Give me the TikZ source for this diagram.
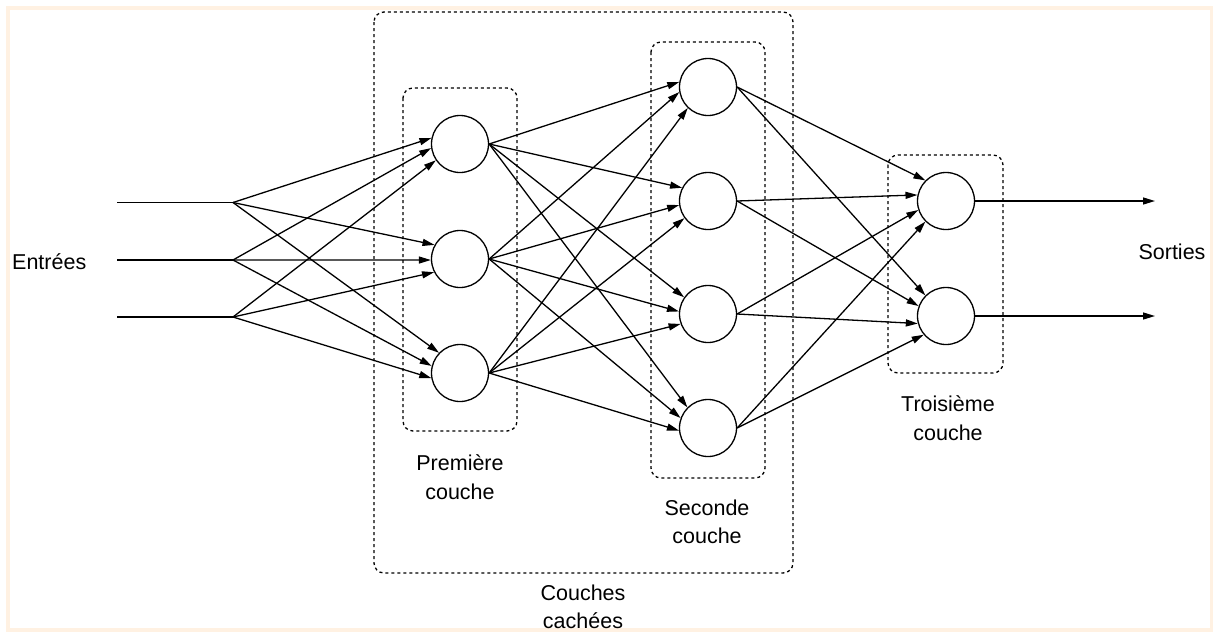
\documentclass[tikz,border=0pt]{standalone}
\usepackage{fontspec}
\setmainfont{Liberation Sans}
\usetikzlibrary{arrows.meta}
\definecolor{framecol}{HTML}{FFF1E2}
\begin{document}
\begin{tikzpicture}[x=1pt,y=-1pt,
  neuron/.style={circle,draw,line width=1.3pt,minimum size=57pt,inner sep=0pt},
  conn/.style={line width=1.3pt,-{Triangle[length=12pt,width=7pt]}},
  wire/.style={line width=1.3pt},
  group/.style={draw,line width=1.3pt,dash pattern=on 3pt off 3pt,rounded corners=10pt},
  lbl/.style={font=\fontsize{21.5}{28.5}\selectfont,align=center,inner sep=0pt},
  outerframe/.style={draw=framecol,line width=4pt}]
\useasboundingbox (0,0) rectangle (1213,633);
\draw[outerframe] (8,7.5) rectangle (1211.5,630);

% group boxes
\draw[group] (374,12) rectangle (793,573);
\draw[group] (403,88) rectangle (517,431);
\draw[group] (651,42) rectangle (765,478);
\draw[group] (888,155) rectangle (1003,373);

% inputs
\coordinate (i1) at (117,202.5);
\coordinate (i2) at (117,260);
\coordinate (i3) at (117,317);
\coordinate (f1) at (233,202.5);
\coordinate (f2) at (233,260);
\coordinate (f3) at (233,317);

% neurons
\node[neuron] (a1) at (460,144) {};
\node[neuron] (a2) at (460,259) {};
\node[neuron] (a3) at (460,373) {};
\node[neuron] (b1) at (708,87) {};
\node[neuron] (b2) at (708,201) {};
\node[neuron] (b3) at (708,314) {};
\node[neuron] (b4) at (708,428) {};
\node[neuron] (c1) at (946,201) {};
\node[neuron] (c2) at (946,316) {};

\coordinate (o1) at (1155,201);
\coordinate (o2) at (1155,316);

\foreach \k in {1,2,3} \draw[wire] (i\k) -- (f\k);

\foreach \s/\t/\ang in {f1/a1/168,f2/a1/188,f3/a1/214,
                        f1/a2/151,f2/a2/182,f3/a2/207,
                        f1/a3/136,f2/a3/166,f3/a3/190}
  \draw[conn] (\s) -- (\t.\ang);

\foreach \s/\t/\ang in {a1/b1/170,a2/b1/190,a3/b1/226,
                        a1/b2/153,a2/b2/188,a3/b2/216,
                        a1/b3/145,a2/b3/175,a3/b3/200,
                        a1/b4/135,a2/b4/160,a3/b4/185}
  \draw[conn] (\s.east) -- (\t.\ang);

\foreach \s/\t/\ang in {b1/c1/135,b2/c1/168,b3/c1/198,b4/c1/225,
                        b1/c2/135,b2/c2/160,b3/c2/195,b4/c2/220}
  \draw[conn] (\s.east) -- (\t.\ang);

\draw[conn] (c1.east) -- (o1);
\draw[conn] (c2.east) -- (o2);

% labels
\node[lbl,anchor=west] (lin) at (12,262) {Entrées};
\node[lbl] (lout) at (1172,252) {Sorties};
\node[lbl] (l1) at (460,477) {Première\\couche};
\node[lbl] (l2) at (707,522) {Seconde\\couche};
\node[lbl] (lh) at (583,607) {Couches\\cachées};
\node[lbl] (l3) at (948,418) {Troisième\\couche};
\end{tikzpicture}
\end{document}
